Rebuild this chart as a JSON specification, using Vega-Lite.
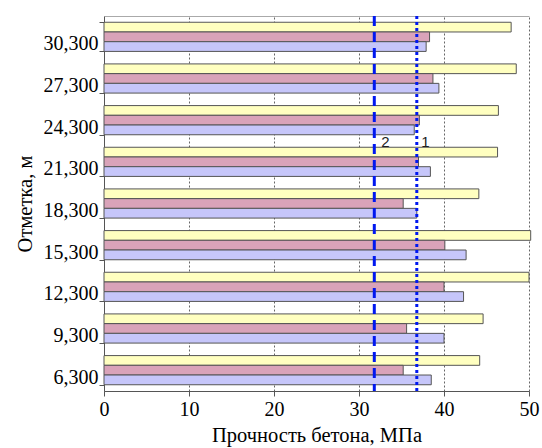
{
  "$schema": "https://vega.github.io/schema/vega-lite/v6.json",
  "width": 425,
  "height": 375,
  "autosize": {"type": "none"},
  "padding": {"left": 104, "top": 16, "right": 13, "bottom": 57},
  "config": {"view": {"stroke": null}, "font": "Liberation Serif"},
  "datasets": {
    "bars": [
      {"elev": "30,300", "s": "Y", "value": 47.9},
      {"elev": "30,300", "s": "P", "value": 38.3},
      {"elev": "30,300", "s": "B", "value": 37.9},
      {"elev": "27,300", "s": "Y", "value": 48.5},
      {"elev": "27,300", "s": "P", "value": 38.7},
      {"elev": "27,300", "s": "B", "value": 39.4},
      {"elev": "24,300", "s": "Y", "value": 46.4},
      {"elev": "24,300", "s": "P", "value": 37.1},
      {"elev": "24,300", "s": "B", "value": 36.5},
      {"elev": "21,300", "s": "Y", "value": 46.3},
      {"elev": "21,300", "s": "P", "value": 37.0},
      {"elev": "21,300", "s": "B", "value": 38.4},
      {"elev": "18,300", "s": "Y", "value": 44.1},
      {"elev": "18,300", "s": "P", "value": 35.2},
      {"elev": "18,300", "s": "B", "value": 36.8},
      {"elev": "15,300", "s": "Y", "value": 50.2},
      {"elev": "15,300", "s": "P", "value": 40.1},
      {"elev": "15,300", "s": "B", "value": 42.6},
      {"elev": "12,300", "s": "Y", "value": 50.0},
      {"elev": "12,300", "s": "P", "value": 40.0},
      {"elev": "12,300", "s": "B", "value": 42.3},
      {"elev": "9,300", "s": "Y", "value": 44.6},
      {"elev": "9,300", "s": "P", "value": 35.6},
      {"elev": "9,300", "s": "B", "value": 40.0},
      {"elev": "6,300", "s": "Y", "value": 44.2},
      {"elev": "6,300", "s": "P", "value": 35.2},
      {"elev": "6,300", "s": "B", "value": 38.5}
    ],
    "refs": [
      {"v": 31.8, "k": "2", "lx": 33.1, "elev": "24,300"},
      {"v": 36.8, "k": "1", "lx": 37.8, "elev": "24,300"}
    ]
  },
  "resolve": {"axis": {"x": "independent", "y": "independent"}},
  "layer": [
    {
      "data": {"name": "bars"},
      "mark": {"type": "bar", "stroke": "#555555", "strokeWidth": 1},
      "encoding": {
        "y": {
          "field": "elev",
          "type": "nominal",
          "scale": {
            "domain": ["30,300", "27,300", "24,300", "21,300", "18,300", "15,300", "12,300", "9,300", "6,300"],
            "paddingInner": 0.3,
            "paddingOuter": 0.15
          },
          "axis": {
            "title": "Отметка, м",
            "tickBand": "extent",
            "labelFont": "Liberation Serif",
            "labelFontSize": 20,
            "labelColor": "#000000",
            "labelPadding": 1,
            "labelOffset": 7,
            "titleFont": "Liberation Serif",
            "titleFontSize": 20.5,
            "titleFontWeight": "normal",
            "titleColor": "#000000",
            "titlePadding": 8,
            "domainColor": "#555555",
            "tickColor": "#555555",
            "tickSize": 5
          }
        },
        "x": {
          "field": "value",
          "type": "quantitative",
          "scale": {"domain": [0, 50], "nice": false},
          "axis": {
            "title": "Прочность бетона, МПа",
            "values": [0, 10, 20, 30, 40, 50],
            "grid": true,
            "gridDash": [2, 2],
            "gridColor": "#666666",
            "labelFont": "Liberation Serif",
            "labelFontSize": 20,
            "labelColor": "#000000",
            "labelPadding": 3,
            "labelFlush": false,
            "titleFont": "Liberation Serif",
            "titleFontSize": 20.5,
            "titleFontWeight": "normal",
            "titleColor": "#000000",
            "titlePadding": 6,
            "domainColor": "#555555",
            "tickColor": "#555555",
            "tickSize": 5
          }
        },
        "yOffset": {
          "field": "s",
          "type": "nominal",
          "scale": {"domain": ["Y", "P", "B"], "paddingInner": 0, "paddingOuter": 0}
        },
        "color": {
          "field": "s",
          "type": "nominal",
          "scale": {"domain": ["Y", "P", "B"], "range": ["#ffffc0", "#d9a3b9", "#c6c6fa"]},
          "legend": null
        }
      }
    },
    {
      "data": {"name": "refs"},
      "mark": {"type": "rule", "color": "#0018f0", "strokeWidth": 3},
      "encoding": {
        "x": {
          "field": "v",
          "type": "quantitative",
          "axis": {
            "orient": "top",
            "labels": false,
            "ticks": false,
            "grid": false,
            "title": null,
            "domainColor": "#aaaaaa"
          }
        },
        "strokeDash": {
          "field": "k",
          "type": "nominal",
          "scale": {"domain": ["2", "1"], "range": [[10, 6], [3, 3]]},
          "legend": null
        }
      }
    },
    {
      "data": {"name": "refs"},
      "mark": {"type": "text", "font": "Liberation Sans", "fontSize": 15, "color": "#222222", "dy": 22, "align": "center", "baseline": "middle"},
      "encoding": {
        "x": {"field": "lx", "type": "quantitative", "axis": null},
        "y": {"field": "elev", "type": "nominal", "axis": null},
        "text": {"field": "k"}
      }
    }
  ]
}
